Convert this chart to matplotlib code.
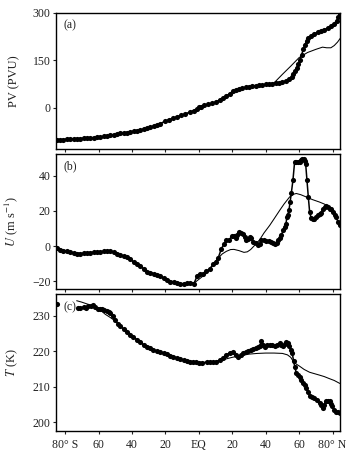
import numpy as np
import matplotlib
matplotlib.use("Agg")
import matplotlib.pyplot as plt

plt.rcParams['font.family'] = ['Liberation Serif', 'DejaVu Serif']
plt.rcParams['mathtext.fontset'] = 'stix'

# x-axis ticks
tick_lats = [-80, -60, -40, -20, 0, 20, 40, 60, 80]
tick_names = ['80° S', '60', '40', '20', 'EQ', '20', '40', '60', '80° N']

# (a) PV, observed (dots) and model (line)
pv_obs_lat = [-85, -83, -81, -79, -77, -75, -73, -71, -69, -67, -65, -63, -61, -59, -57,
              -55, -53, -51, -49, -47, -45, -43, -41, -39, -37, -35, -33, -31, -29, -27,
              -25, -23, -20.5, -18, -15.5, -13, -10.5, -8, -5.5, -3, -1, 0, 1, 3, 5.5, 8,
              10.5, 12.5, 14.5, 16.5, 18.5, 20.5, 22, 24, 26, 28, 30, 32, 34, 36, 38, 40,
              42, 44, 46, 48, 50, 52, 54, 55.5, 56.5, 57.5, 58.5, 59.5, 60.5, 61.5, 62.5,
              63.5, 64.5, 65.5, 67, 69, 71, 73, 75, 77, 79, 81, 82.5, 83.5, 84.5]
pv_obs = [-101, -100.5, -100, -99, -98.5, -98, -97.5, -97, -96.5, -96, -95, -94, -93, -92, -90.5,
          -89, -87, -85, -83, -81, -79.5, -78, -76, -74, -72, -70, -67.5, -65, -62, -58,
          -54, -50, -43, -38, -33, -28, -24, -19, -14, -9, -3, 2, 4, 8, 11, 14,
          19, 25, 32, 38, 45, 52, 56, 59, 62, 64.5, 66.5, 68, 69.5, 71, 72.5, 74,
          75.5, 77, 78.5, 80, 82, 85, 91, 98, 106, 116, 126, 138, 152, 168, 185,
          200, 212, 220, 228, 234, 239, 243, 247, 252, 258, 266, 276, 286, 296]
pv_mod_lat = [-85, -75, -65, -55, -45, -35, -25, -20, -15, -10, -5, 0, 5, 10, 15, 20, 25, 30,
              35, 40, 45, 50, 55, 60, 65, 70, 74, 76.5, 79, 81, 83, 84.5]
pv_mod = [-101, -98, -95, -89, -79.5, -70, -54, -42, -32, -23, -13, 0, 11, 18, 33, 50, 60, 66.5,
          70, 74, 79, 106, 132, 159, 175, 185, 192, 190, 190, 197, 208, 219]

# (b) zonal wind U
u_obs_lat = [-85, -83, -81, -79, -77, -75, -73, -71, -69, -67, -65, -63, -61, -59, -57, -55,
             -53, -51, -49, -47, -45, -43, -41, -39, -37, -35, -33, -31, -29, -27, -25, -23,
             -21, -19, -17, -15, -13, -11, -9, -7, -5, -3, -1, 0.5, 2.5, 4.5, 6.5, 8.5,
             10, 11.5, 13.5, 15, 16.5, 18, 19.8, 21, 22.1, 23, 24.1, 25.3, 26.5, 27.5, 28.5,
             29.5, 30.4, 31.4, 32.4, 34, 35.4, 36.4, 37.4, 39, 40.4, 42, 43.4, 44.5, 45.4,
             46.5, 47.4, 48.4, 49.4, 50.4, 51.3, 52.1, 52.7, 53.3, 53.9, 54.6, 55.3, 56.3,
             57.3, 58.3, 59.3, 60.3, 61.3, 62, 62.7, 63.4, 63.9, 64.7, 65.5, 66.3, 67.2, 68.2,
             69.2, 70.2, 71.2, 72.2, 73.2, 74.2, 75.2, 76.2, 77.2, 78.2, 79.2, 80.2, 81.2,
             82.2, 83.2, 84.2]
u_obs = [-0.9, -2, -2.7, -3, -3.5, -4, -4.3, -4.4, -4.2, -4, -3.7, -3.5, -3.4, -3.3, -3, -2.6,
         -3, -3.6, -4.4, -5.2, -5.8, -6.5, -7.6, -9, -10.2, -11.5, -13, -14.6, -15.2, -15.8, -16.3, -17.2,
         -18.5, -19.5, -20.4, -20.6, -21.2, -21.6, -21.8, -21.2, -21, -21.6, -17, -15.8, -16.2, -14.5, -13, -10.5,
         -9, -7, -1.5, 1, 3.3, 3.5, 5.5, 6, 4.8, 6.5, 8, 7.5, 7, 5, 3.3,
         4, 5, 4.5, 2.3, 1.5, 0.4, 1, 3.3, 3.3, 3, 2.8, 2.3, 2, 1.2,
         2, 3.3, 4.5, 6.1, 9, 10.9, 12.5, 16.6, 18, 20.4, 25, 30, 37.5,
         48, 47.8, 47.7, 48, 49, 49.5, 49.9, 48.5, 47.1, 37.5, 28, 19.4, 16, 15.6,
         15.5, 16.6, 17.5, 18.5, 19, 21.4, 22, 22.7, 22, 21.4, 21, 19.4, 18,
         16.6, 14, 11.8]
u_mod_lat = [-85, -80, -75, -70, -65, -60, -55, -50, -45, -40, -35, -30, -25, -20, -15, -10,
             -5, -2, 0, 4, 8, 11.5, 14, 16.5, 19, 21, 24, 27, 29, 31, 33, 36.4, 39, 42.4,
             45, 48.4, 51, 54.3, 56.5, 58.3, 61, 64.3, 68, 72.2, 75, 78.2, 80.5, 82.2, 84.2]
u_mod = [-0.9, -2.5, -3.8, -4.2, -3.8, -3.4, -3, -4, -5.8, -8.3, -11.5, -14.8, -16.3, -18.8, -20.4, -21.5,
         -21.2, -20.5, -19, -16, -11.5, -7, -4.5, -3, -2, -1.9, -2.6, -3.6, -3.3, -2, 0, 3.6, 7.5, 11.8,
         15.5, 20.4, 24, 28, 29.5, 30, 29.3, 28, 26.5, 25.1, 24, 22.3, 20, 16.6, 11.8]

# (c) temperature T
t_obs_lat = [-84.6, np.nan, -72.6, -71, -69, -67.5, -66.3, -64.5, -63.3, -62, -60.5, -59.3, -58,
             -56.5, -55.1, -54, -53, -51.5, -50.1, -48.5, -47, -45, -43.2, -41, -39.2, -37,
             -35.2, -33, -31.2, -29, -27.2, -25, -23.3, -21, -19.3, -17, -15.3, -13, -11.3, -9,
             -7.3, -5, -3.4, -1.5, 0, 2, 4.6, 6.5, 8.6, 10.5, 12.5, 14.5, 16.5, 18.5, 20.5, 22,
             23.5, 25, 26.4, 28, 29.4, 31, 32.4, 34, 35.4, 36.4, 37.4, 38.4, 39.4, 41, 42.4, 44,
             45.4, 47, 48.4, 49.4, 50.3, 51.3, 52.3, 53.1, 53.9, 55, 55.9, 56.7, 57.5, 58.3,
             59.3, 60.3, 61.3, 62.3, 63.3, 64.3, 65.3, 66.3, 67.8, 69.2, 70.7, 72.2, 73.2, 74.2,
             75, 75.8, 77, 78.2, 79, 79.8, 81, 82.2, 83.2, 84.2]
t_obs = [233.4, np.nan, 232.3, 232.2, 232.4, 232.3, 232.6, 232.8, 232.9, 232.5, 232, 232, 231.8,
         231.6, 231.3, 231, 230.8, 229.8, 228.7, 227.8, 227, 226.3, 225.4, 224.7, 224, 223.3,
         222.5, 221.9, 221.3, 220.8, 220.4, 220, 219.7, 219.4, 219.1, 218.8, 218.5, 218.1, 217.8, 217.5,
         217.3, 217.1, 217, 216.9, 216.7, 216.8, 216.9, 216.9, 216.9, 217.1, 217.5, 218, 219, 219.6, 219.8, 219,
         218.4, 218.9, 219.4, 219.7, 220, 220.4, 220.7, 221, 221.1, 221.5, 222.8, 221.8, 221.3, 221.7, 221.9, 221.7,
         221.4, 221.9, 222.3, 221.8, 221.6, 222.1, 222.6, 222.2, 221.5, 220.5, 219.5, 217.2, 215.5, 213.9,
         213.2, 212.7, 212, 211, 210.5, 209.8, 208.5, 207.4, 207.2, 207, 206.2, 205.6, 204.8, 204.1,
         205, 206, 206, 206, 205.2, 204.5, 203.6, 203, 202.8, 202.7]
t_mod_lat = [-73, -70, -65, -60, -56, -53, -50, -45, -40, -35, -30, -25, -20, -15, -10, -5, 0, 5,
             10, 15, 20, 25, 30, 35, 40, 45, 50, 53, 55, 56.3, 58.3, 60.3, 63, 66.3, 70, 72.2,
             75, 78.2, 81, 84.2]
t_mod = [234.2, 233.8, 233, 232, 230.4, 229.5, 228.5, 226.3, 224.3, 222.4, 221, 220, 219.2, 218.4,
         217.6, 217.1, 216.8, 216.9, 217.2, 217.7, 218.3, 218.8, 219.2, 219.4, 219.5, 219.5, 219.4, 219,
         218.3, 217.3, 216.4, 215.8, 214.9, 214.1, 213.6, 213.3, 212.9, 212.3, 211.8, 211]

fig = plt.figure(figsize=(3.61, 4.59), dpi=100)
ax_a = fig.add_axes([0.155, 0.6754, 0.787, 0.2963])
ax_b = fig.add_axes([0.155, 0.3704, 0.787, 0.294])
ax_c = fig.add_axes([0.155, 0.061, 0.787, 0.2985])

panels = [
    (ax_a, pv_obs_lat, pv_obs, pv_mod_lat, pv_mod, (-130, 300), [0, 150, 300], 'PV (PVU)', '(a)'),
    (ax_b, u_obs_lat, u_obs, u_mod_lat, u_mod, (-24.5, 52.5), [-20, 0, 20, 40],
     r'$U$ (m s$^{-1}$)', '(b)'),
    (ax_c, t_obs_lat, t_obs, t_mod_lat, t_mod, (197.6, 236.1), [200, 210, 220, 230],
     r'$T$ (K)', '(c)'),
]

for ax, olat, oval, mlat, mval, ylim, yt, ylab, tag in panels:
    ax.plot(mlat, mval, color='black', lw=0.75)
    ax.plot(olat, oval, '-o', color='black', lw=1.1, ms=3.7, mew=0)
    ax.set_xlim(-85.5, 84.5)
    ax.set_ylim(*ylim)
    ax.set_yticks(yt)
    ax.set_xticks(tick_lats)
    ax.tick_params(direction='out', length=2.5, width=0.8, labelsize=8.5, pad=1.5,
                   colors='#222222')
    for s in ax.spines.values():
        s.set_linewidth(1.0)
    ax.set_ylabel(ylab, fontsize=9, color='#222222')
    ax.yaxis.set_label_coords(-0.125, 0.5)
    ax.text(0.025, 0.95, tag, transform=ax.transAxes, fontsize=8.5, va='top', ha='left',
            color='#222222')

ax_a.set_xticklabels([])
ax_b.set_xticklabels([])
ax_c.set_xticklabels(tick_names)
ax_c.tick_params(axis='x', pad=3)

fig.savefig('out.png', dpi=100)
